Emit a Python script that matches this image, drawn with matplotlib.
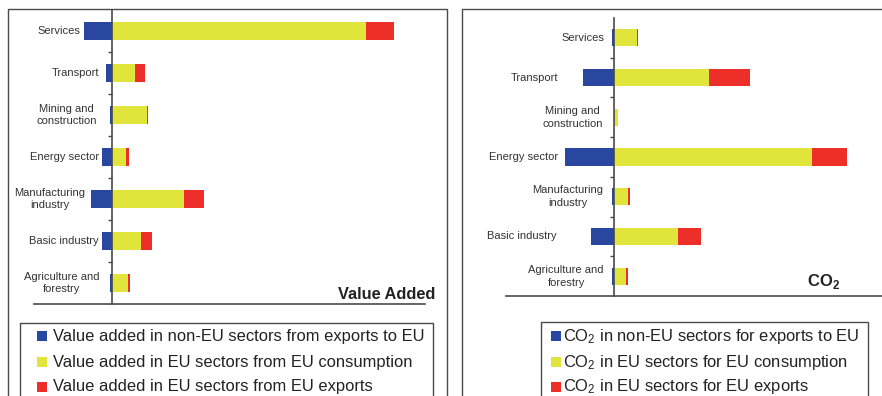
import matplotlib
matplotlib.use("Agg")
import matplotlib.pyplot as plt
from matplotlib.patches import Rectangle

plt.rcParams["font.family"] = ["Liberation Sans", "DejaVu Sans"]
plt.rcParams["mathtext.fontset"] = "custom"
plt.rcParams["mathtext.rm"] = "Liberation Sans"
plt.rcParams["mathtext.bf"] = "Liberation Sans:bold"

# ---- data ----
sectors = ["Services", "Transport", "Mining and\nconstruction", "Energy sector",
           "Manufacturing\nindustry", "Basic industry", "Agriculture and\nforestry"]

va_non_eu = [28, 6, 2, 10, 21, 10, 2]
va_eu_consumption = [254, 23, 35, 14, 72, 29, 16]
va_eu_exports = [28, 10, 1.3, 2.5, 20, 11, 2]

co2_non_eu = [2.3, 31, 0.5, 49, 2.3, 23, 2.3]
co2_eu_consumption = [23, 95, 4, 198, 14, 64, 12]
co2_eu_exports = [1.3, 41, 0.3, 35, 2, 23, 2]

va_legend = ["Value added in non-EU sectors from exports to EU",
             "Value added in EU sectors from EU consumption",
             "Value added in EU sectors from EU exports"]
co2_legend = [r"CO$_\mathregular{2}$ in non-EU sectors for exports to EU",
              r"CO$_\mathregular{2}$ in EU sectors for EU consumption",
              r"CO$_\mathregular{2}$ in EU sectors for EU exports"]

BLUE = "#2a47a0"
YELLOW = "#e1e43a"
RED = "#ee2e29"
LINE = "#4a4a4a"

W, H = 882, 396
fig = plt.figure(figsize=(W / 100, H / 100), dpi=100)


def rect(x0, y0, x1, y1):
    return [x0 / W, 1 - y1 / H, (x1 - x0) / W, (y1 - y0) / H]


def fx(x):
    return x / W


def fy(y):
    return 1 - y / H


def panel(box, xlim, non_eu, cons, exp, label_x):
    ax = fig.add_axes(rect(*box))
    y = list(range(len(sectors)))
    neg = [-v for v in non_eu]
    ax.barh(y, neg, height=0.43, color=BLUE, linewidth=0)
    ax.barh(y, cons, height=0.43, color=YELLOW, linewidth=0)
    ax.barh(y, exp, left=cons, height=0.43, color=RED, linewidth=0)
    ax.set_xlim(*xlim)
    ax.set_ylim(len(sectors) - 0.5, -0.5)
    for s in ("top", "right"):
        ax.spines[s].set_visible(False)
    ax.spines["left"].set_position(("data", 0))
    for s in ("left", "bottom"):
        ax.spines[s].set_color(LINE)
        ax.spines[s].set_linewidth(1.2)
    ax.set_xticks([])
    ax.set_yticks([i + 0.5 for i in range(len(sectors) - 1)])
    ax.set_yticklabels([])
    ax.tick_params(axis="y", direction="out", length=3, color=LINE, width=1)
    ax.patch.set_alpha(0)
    for i, (name, lx) in enumerate(zip(sectors, label_x)):
        ax.text(lx, i, name, ha="right", va="center", multialignment="center",
                fontsize=8, color="#333333", linespacing=1.35)
    return ax


# panel frames
for x0, x1 in ((8, 447), (462, 905)):
    fig.add_artist(Rectangle((fx(x0), fy(430)), fx(x1 - x0), (430 - 9) / H,
                             transform=fig.transFigure, fill=False,
                             edgecolor=LINE, linewidth=1))

panel((34, 10, 425, 304), (-78, 313), va_non_eu, va_eu_consumption, va_eu_exports,
      [-32, -13, -15, -13, -27, -13, -13])
panel((506, 18, 890, 296), (-108, 276), co2_non_eu, co2_eu_consumption, co2_eu_exports,
      [-10, -56, -11, -56, -11, -57, -10])

fig.text(fx(435), fy(299), "Value Added", ha="right", va="baseline",
         fontsize=11.8, fontweight="bold", color="#222222")
fig.text(fx(840), fy(286), r"CO$_\mathregular{2}$", ha="right", va="baseline",
         fontsize=12, fontweight="bold", color="#222222")


def legend(box, mx, tx, labels):
    x0, y0, x1, y1 = box
    fig.add_artist(Rectangle((fx(x0), fy(y1)), fx(x1 - x0), (y1 - y0) / H,
                             transform=fig.transFigure, fill=False,
                             edgecolor=LINE, linewidth=1))
    for yc, color, lab in zip((336, 362, 387), (BLUE, YELLOW, RED), labels):
        fig.add_artist(Rectangle((fx(mx), fy(yc + 5)), fx(10), 10 / H,
                                 transform=fig.transFigure, facecolor=color,
                                 linewidth=0))
        fig.text(fx(tx), fy(yc), lab, ha="left", va="center", fontsize=11.85,
                 color="#222222")


legend((20, 323, 433, 430), 37, 53, va_legend)
legend((541, 322, 868, 430), 551, 563, co2_legend)

fig.savefig("out.png", dpi=100)
